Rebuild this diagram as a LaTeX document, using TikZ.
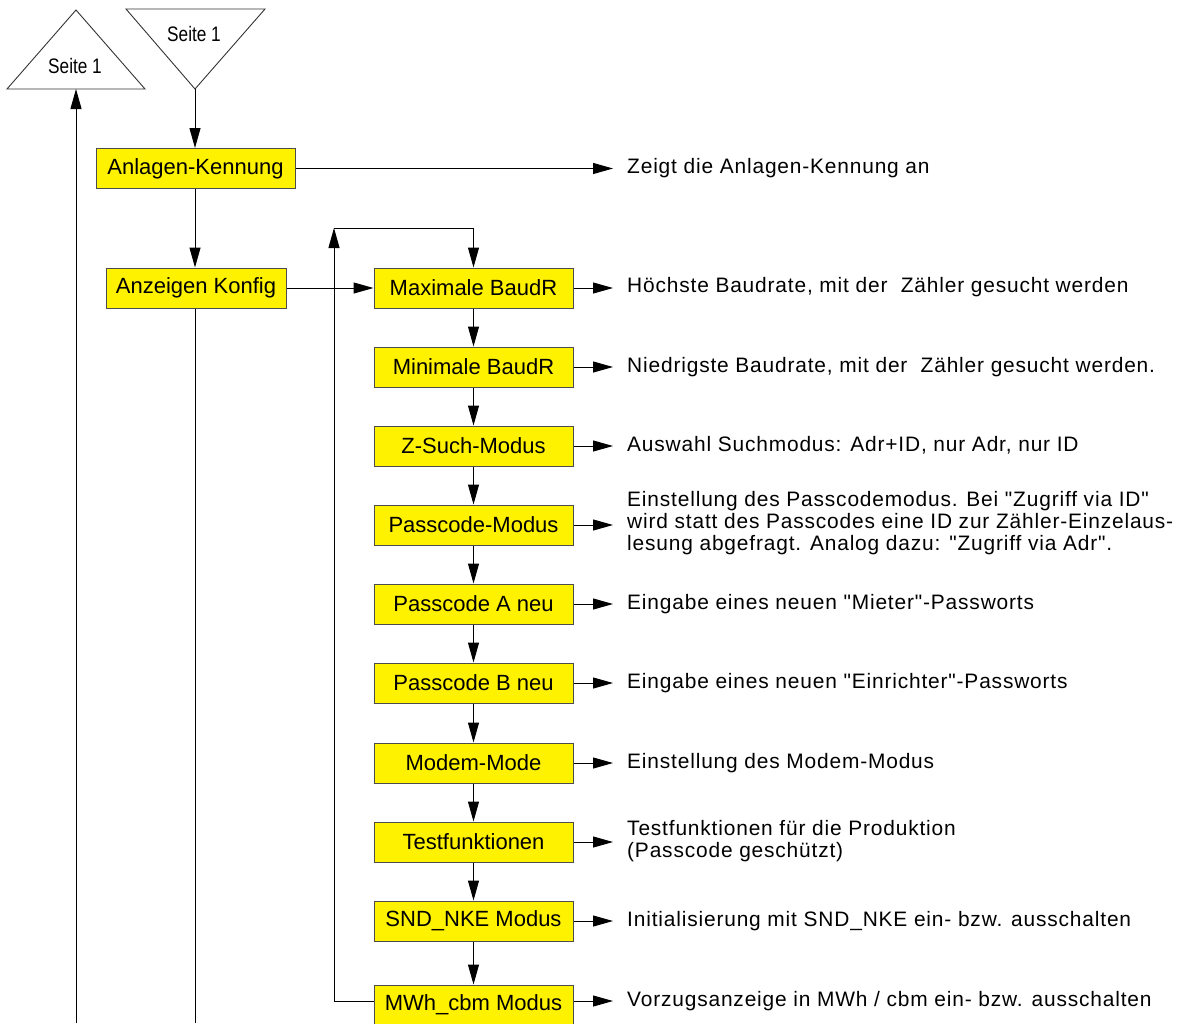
\documentclass[tikz,border=0pt]{standalone}
\usepackage{fontspec}
\setmainfont{Liberation Sans}
\newfontfamily\labfont[LetterSpace=4]{Liberation Sans}
\usetikzlibrary{arrows.meta}
\tikzset{
  box/.style={draw=black!70, fill=yellow, line width=1pt, minimum width=199pt, minimum height=40pt,
    inner sep=0pt, font=\fontsize{22}{26}\selectfont},
  lab/.style={anchor=west, inner sep=0pt, align=left, font=\labfont\fontsize{20.9}{22}\selectfont},
  tri/.style={draw=black!80, line width=0.9pt},
  arr/.style={-{Triangle[length=20pt,width=11pt]}, line width=1pt},
  ln/.style={line width=1pt},
  sl/.style={font=\fontsize{21}{23}\selectfont, inner sep=0pt}
}
\begin{document}
\begin{tikzpicture}[x=1pt,y=-1pt]
\useasboundingbox (0,0) rectangle (1180,1023);
% triangles
\draw[tri] (76,10) -- (7,89) -- (145,89) -- cycle;
\draw[tri] (126,9) -- (265,9) -- (195,89) -- cycle;
\node[sl] (s1) at (75,66) {\scalebox{0.82}[1]{Seite 1}};
\node[sl] (s2) at (194,34) {\scalebox{0.82}[1]{Seite 1}};
\coordinate (upbase) at (76,89);
\coordinate (dnapex) at (195,89);
\coordinate (b1) at (76,1023);
\coordinate (b2) at (195,1023);
% boxes
\node[box] (ak) at (195.5,168.5) {Anlagen-Kennung};
\node[box, minimum width=180pt] (kon) at (196,288) {Anzeigen Konfig};
\node[box] (max) at (473.5,288) {Maximale BaudR};
\node[box] (min) at (473.5,367) {Minimale BaudR};
\node[box] (zs) at (473.5,446) {Z-Such-Modus};
\node[box] (pm) at (473.5,525) {Passcode-Modus};
\node[box] (pa) at (473.5,604) {Passcode A neu};
\node[box] (pb) at (473.5,683) {Passcode B neu};
\node[box] (mm) at (473.5,763) {Modem-Mode};
\node[box] (tf) at (473.5,842) {Testfunktionen};
\node[box] (snd) at (473.5,921) {SND\_NKE Modus};
\node[box] (mwh) at (473.5,1005) {MWh\_cbm Modus};
% labels
\node[lab] (tak) at (627,168) {Zeigt die Anlagen-Kennung an};
\node[lab] (tmax) at (627,287) {Höchste Baudrate, mit der\ \ Zähler gesucht werden};
\node[lab] (tmin) at (627,367) {Niedrigste Baudrate, mit der\ \ Zähler gesucht werden.};
\node[lab] (tzs) at (627,445) {Auswahl Suchmodus: Adr+ID, nur Adr, nur ID};
\node[lab] (tpm) at (627,523) {Einstellung des Passcodemodus. Bei "Zugriff via ID"\\wird statt des Passcodes eine ID zur Zähler-Einzelaus-\\lesung abgefragt. Analog dazu: "Zugriff via Adr".};
\node[lab] (tpa) at (627,604) {Eingabe eines neuen "Mieter"-Passworts};
\node[lab] (tpb) at (627,683) {Eingabe eines neuen "Einrichter"-Passworts};
\node[lab] (tmm) at (627,763) {Einstellung des Modem-Modus};
\node[lab] (ttf) at (627,841) {Testfunktionen für die Produktion\\(Passcode geschützt)};
\node[lab] (tsnd) at (627,921) {Initialisierung mit SND\_NKE ein- bzw. ausschalten};
\node[lab] (tmwh) at (627,1001) {Vorzugsanzeige in MWh / cbm ein- bzw. ausschalten};
% left connectors
\draw[arr] (b1) -- (upbase);
\draw[arr] (dnapex) -- (ak.north -| dnapex);
\draw[arr] (ak.south -| dnapex) -- (kon.north -| dnapex);
\draw[ln] (kon.south -| b2) -- (b2);
\draw[arr] (kon.east) -- (max.west);
% column connectors
\foreach \a/\b in {max/min,min/zs,zs/pm,pm/pa,pa/pb,pb/mm,mm/tf,tf/snd,snd/mwh}
  \draw[arr] (\a.south) -- (\b.north);
% loop
\coordinate (lt) at (334,228);
\draw[arr] (mwh.west |- 0,1001) -- (lt |- 0,1001) -- (lt);
\draw[arr] (lt) -| (max.north);
% right arrows
\foreach \a/\b in {ak/tak,max/tmax,min/tmin,zs/tzs,pm/tpm,pa/tpa,pb/tpb,mm/tmm,tf/ttf,snd/tsnd}
  \draw[arr, shorten >=14pt] (\a.east) -- (\a.east -| \b.west);
\draw[arr, shorten >=14pt] (mwh.east |- 0,1001) -- (tmwh.west);
\end{tikzpicture}
\end{document}
